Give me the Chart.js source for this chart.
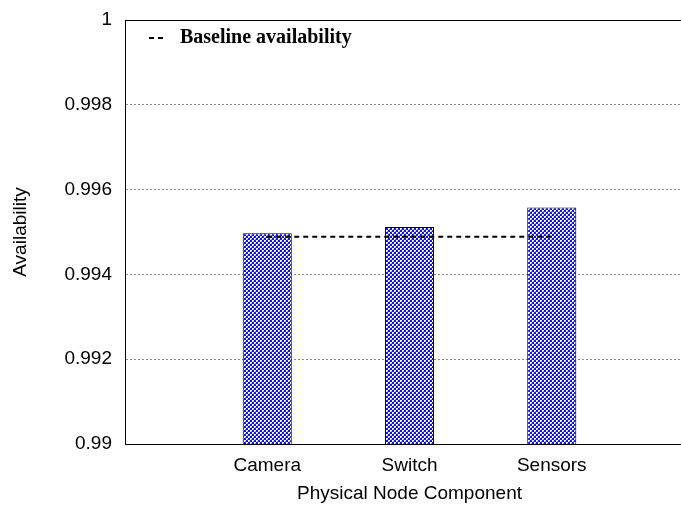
<!DOCTYPE html>
<html>
<head>
<meta charset="utf-8">
<script src="https://cdn.jsdelivr.net/npm/chart.js@4/dist/chart.umd.min.js"></script>
<style>
  html, body { margin: 0; padding: 0; background: #fff; overflow: hidden; }
  #wrap { width: 704px; height: 505px; }
</style>
</head>
<body>
<div id="wrap"><canvas id="c" width="704" height="505"></canvas></div>
<script>
// Component availability vs. the baseline
const categories = ['Camera', 'Switch', 'Sensors'];
const availability = [0.99497, 0.99512, 0.99558];
const baseline = [0.99489, 0.99489, 0.99489];
const yTicks = [0.99, 0.992, 0.994, 0.996, 0.998, 1];
const baselineLabel = 'Baseline availability';

// one empty slot at each end of the category axis
const labels = [''].concat(categories, ['']);
const barData = [null].concat(availability, [null]);
const lineData = [null].concat(baseline, [null]);

// blue cross-hatch fill
function hatch() {
  const p = document.createElement('canvas');
  p.width = 4; p.height = 4;
  const g = p.getContext('2d');
  g.fillStyle = '#1010ff';
  g.fillRect(0, 0, 4, 4);
  g.fillStyle = '#ffffff';
  g.fillRect(0, 0, 2, 2);
  g.fillRect(2, 2, 2, 2);
  g.fillStyle = '#8a8aff';
  g.fillRect(1, 1, 1, 1);
  g.fillRect(3, 3, 1, 1);
  return g.createPattern(p, 'repeat');
}

const sans = 'Liberation Sans, Arial, sans-serif';

// legend drawn inside the plot area
const insideLegend = {
  id: 'insideLegend',
  afterDatasetsDraw(chart) {
    const ds = chart.data.datasets[1];
    const ctx = chart.ctx;
    const a = chart.chartArea;
    const y = a.top + 18;
    ctx.save();
    ctx.strokeStyle = ds.borderColor;
    ctx.lineWidth = ds.borderWidth;
    ctx.setLineDash(ds.borderDash);
    ctx.beginPath();
    ctx.moveTo(a.left + 24, y);
    ctx.lineTo(a.left + 40, y);
    ctx.stroke();
    ctx.setLineDash([]);
    ctx.fillStyle = '#000';
    ctx.font = 'bold 20px "Liberation Serif", "Times New Roman", serif';
    ctx.textBaseline = 'middle';
    ctx.textAlign = 'left';
    ctx.fillText(ds.label, a.left + 55, y);
    ctx.restore();
  }
};

new Chart(document.getElementById('c'), {
  type: 'bar',
  data: {
    labels: labels,
    datasets: [
      {
        type: 'bar',
        label: 'Availability',
        data: barData,
        backgroundColor: hatch(),
        borderColor: '#000',
        borderWidth: 1,
        barPercentage: 1,
        categoryPercentage: 0.345,
        order: 1
      },
      {
        type: 'line',
        label: baselineLabel,
        data: lineData,
        borderColor: '#000',
        borderWidth: 2,
        borderDash: [5, 4],
        pointRadius: 0,
        fill: false,
        spanGaps: false,
        order: 0
      }
    ]
  },
  options: {
    responsive: false,
    animation: false,
    events: [],
    layout: { autoPadding: false, padding: { top: 20, right: 7, left: 0, bottom: 0 } },
    plugins: { legend: { display: false }, tooltip: { enabled: false } },
    scales: {
      x: {
        type: 'category',
        position: 'bottom',
        offset: false,
        border: { color: '#000', width: 1 },
        grid: { offset: false, drawOnChartArea: false, drawTicks: false },
        ticks: { color: '#000', font: { family: sans, size: 19 }, padding: 10, maxRotation: 0, autoSkip: false },
        title: { display: true, text: 'Physical Node Component', color: '#000', font: { family: sans, size: 19 }, padding: { top: 0, bottom: 0 } },
        afterFit(s) { s.height = 61; }
      },
      xTop: {
        type: 'category',
        position: 'top',
        offset: false,
        border: { color: '#000', width: 1 },
        grid: { offset: false, drawOnChartArea: false, drawTicks: false },
        ticks: { display: false },
        afterFit(s) { s.height = 0; }
      },
      y: {
        type: 'linear',
        min: 0.99,
        max: 1,
        border: { color: '#000', width: 1, dash: [2, 2] },
        grid: {
          color: (c) => (c.tick && (Math.abs(c.tick.value - 0.99) < 1e-9 || Math.abs(c.tick.value - 1) < 1e-9)) ? 'rgba(0,0,0,0)' : '#8c8c8c',
          lineWidth: 1,
          drawTicks: true,
          tickLength: 5,
          tickColor: 'rgba(0,0,0,0)',
          tickBorderDash: []
        },
        afterBuildTicks(s) { s.ticks = yTicks.map(v => ({ value: v })); },
        ticks: {
          color: '#000',
          font: { family: sans, size: 19 },
          padding: 8,
          callback: (v) => String(+Number(v).toFixed(3))
        },
        title: { display: true, text: 'Availability', color: '#000', font: { family: sans, size: 19 }, padding: { top: 9, bottom: 0 } },
        afterFit(s) { s.width = 125; }
      }
    }
  },
  plugins: [insideLegend]
});
</script>
</body>
</html>
